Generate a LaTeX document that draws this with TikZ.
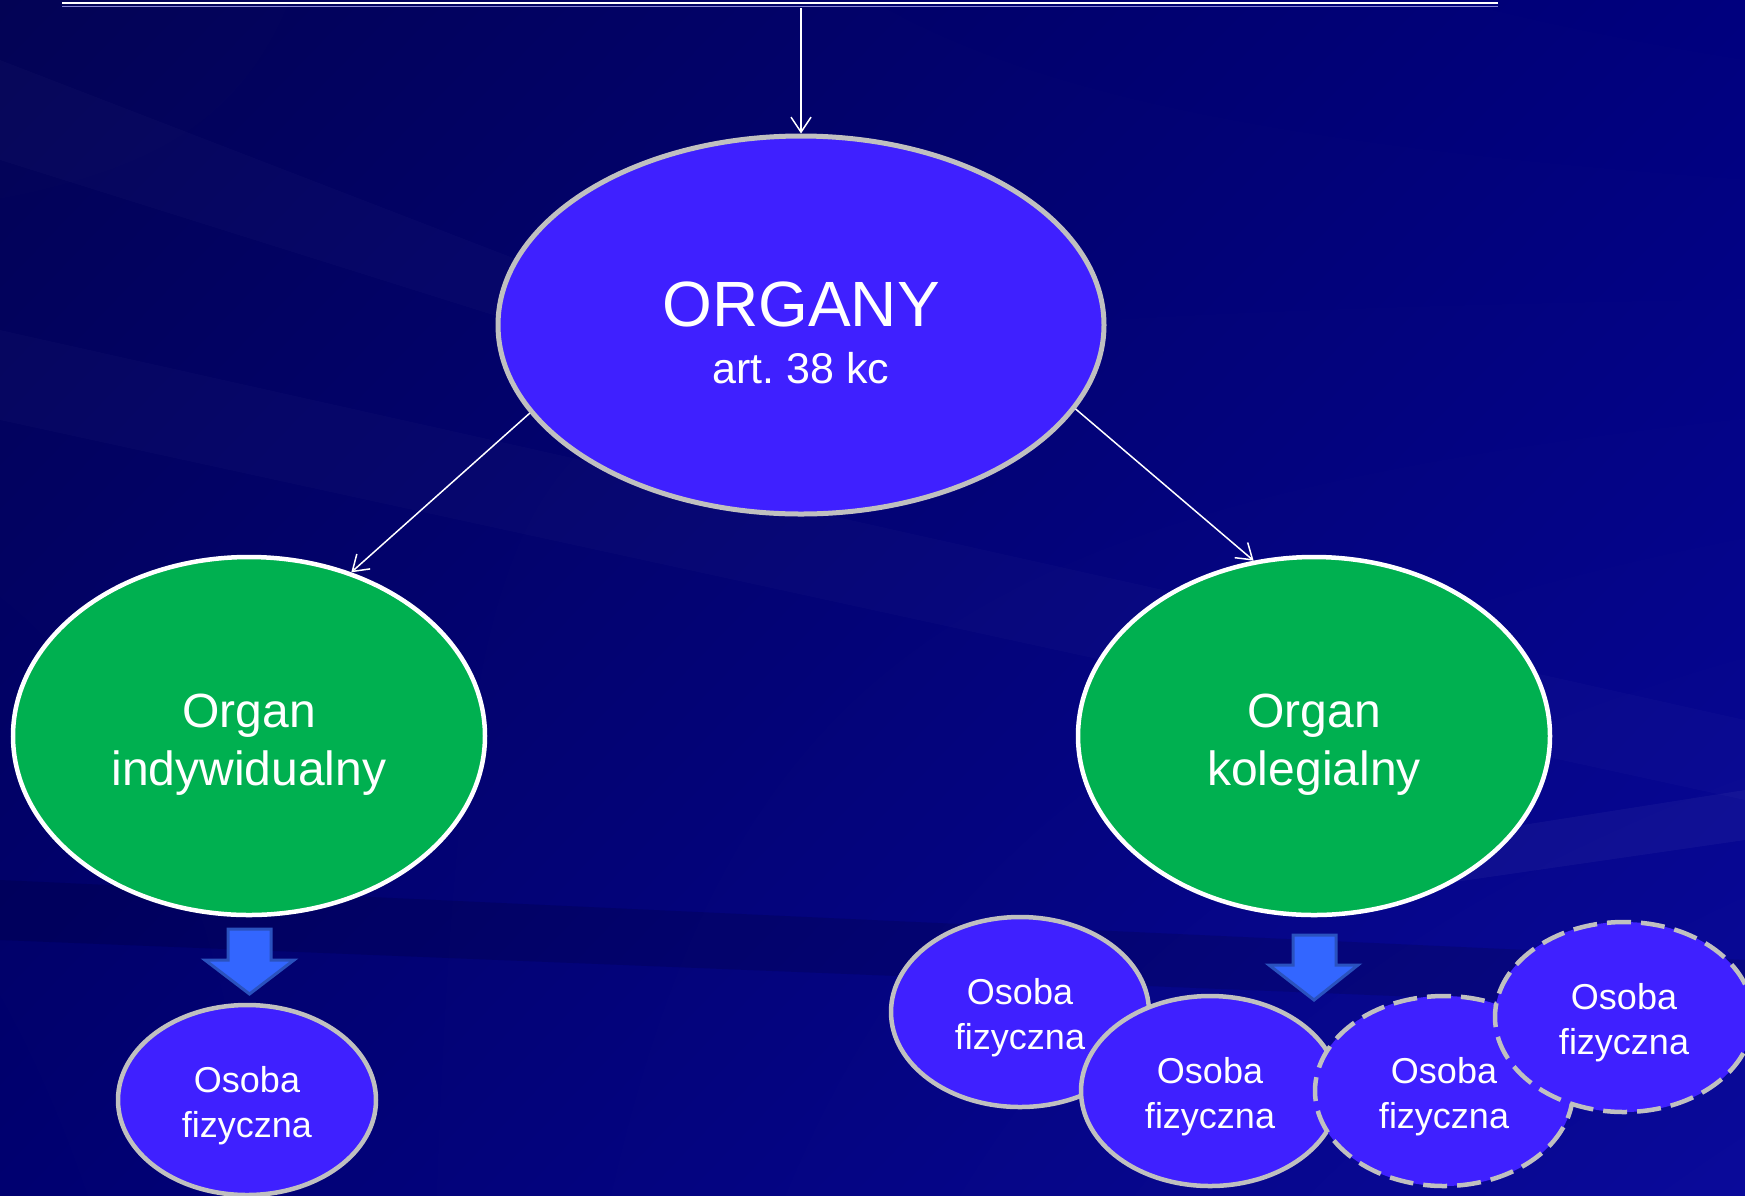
\documentclass[tikz,border=0pt]{standalone}
\usepackage{fontspec}
\setmainfont{Liberation Sans}
\usetikzlibrary{shapes,arrows.meta,positioning,shadings}
\definecolor{organblue}{HTML}{3F20FF}
\definecolor{organgreen}{HTML}{00B050}
\definecolor{organgray}{HTML}{C0C0C0}
\definecolor{arrowblue}{HTML}{3366FF}
\definecolor{arrowedge}{HTML}{2A52BE}
\definecolor{bgdark}{HTML}{030355}
\definecolor{bgmid}{HTML}{00007E}
\definecolor{bglow}{HTML}{000070}
\definecolor{bglight}{HTML}{0A0A9A}
\frenchspacing

\begin{document}
\begin{tikzpicture}[x=1pt,y=-1pt,
  bigstyle/.style={ellipse,draw=organgray,line width=5pt,fill=organblue,text=white,inner sep=0pt,align=center},
  greenstyle/.style={ellipse,draw=white,line width=4.5pt,fill=organgreen,text=white,inner sep=0pt,
    minimum width=472,minimum height=358,align=center,font=\fontsize{48}{58}\selectfont},
  osobastyle/.style={ellipse,draw=organgray,line width=4.5pt,fill=organblue,text=white,inner sep=0pt,
    minimum width=258,minimum height=190,align=center,font=\fontsize{36}{45}\selectfont},
  dashstyle/.style={osobastyle,dash pattern=on 24pt off 10pt},
  blockarrow/.style={fill=arrowblue,draw=arrowedge,line width=3pt,line join=miter},
  link/.style={draw=white,line width=1.5pt,-{Straight Barb[length=15pt,width=20pt]}}]

  % background
  \shade[upper left=bgdark,upper right=bgmid,lower left=bglow,lower right=bglight] (0,0) rectangle (1745,1195);
  \fill[white,opacity=0.02] (0,60) -- (700,330) -- (700,380) -- (0,160) -- cycle;
  \fill[white,opacity=0.02] (0,330) -- (1745,720) -- (1745,800) -- (0,420) -- cycle;
  \fill[white,opacity=0.04] (1300,860) -- (1745,790) -- (1745,840) -- (1330,900) -- cycle;
  \fill[black,opacity=0.12] (0,880) -- (1745,960) -- (1745,1010) -- (0,940) -- cycle;
  \useasboundingbox (0,0) rectangle (1745,1195);

  % top line
  \coordinate (lineL) at (62,3);
  \coordinate (lineR) at (1498,3);
  \coordinate (topstart) at (801,8);
  \draw[white,line width=1.5pt] (lineL) -- (lineR);
  \draw[organgray!70!blue,line width=1pt] ([yshift=-3pt]lineL) -- ([yshift=-3pt]lineR);

  % main nodes
  \node[bigstyle,minimum width=606,minimum height=378] (organy) at (801,325)
    {\fontsize{64}{62}\selectfont\rule{0pt}{60pt}ORGANY\\[24pt]\fontsize{43}{62}\selectfont art. 38 kc};
  \node[greenstyle] (indyw) at (249,736) {\rule{0pt}{51pt}Organ\\indywidualny};
  \node[greenstyle] (koleg) at (1314,736) {\rule{0pt}{51pt}Organ\\kolegialny};

  \draw[link] (topstart) -- (organy.north);
  \draw[link] (organy.198.6) -- (indyw.58);
  \draw[link] (organy.343.5) -- (koleg.109);

  % block arrows
  \draw[blockarrow] (228,929) -- (271,929) -- (271,960) -- (294,960) -- (249.5,994) -- (205,960) -- (228,960) -- cycle;
  \draw[blockarrow] (1293,935) -- (1336,935) -- (1336,965) -- (1358,965) -- (1314,1000) -- (1269,965) -- (1293,965) -- cycle;

  % persons
  \node[osobastyle] (osoba0) at (247,1100) {\rule{0pt}{38pt}Osoba\\fizyczna};
  \node[osobastyle] (osoba1) at (1020,1012) {\rule{0pt}{38pt}Osoba\\fizyczna};
  \node[osobastyle] (osoba2) at (1210,1091) {\rule{0pt}{38pt}Osoba\\fizyczna};
  \node[dashstyle] (osoba3) at (1444,1091) {\rule{0pt}{38pt}Osoba\\fizyczna};
  \node[dashstyle] (osoba4) at (1624,1017) {\rule{0pt}{38pt}Osoba\\fizyczna};
\end{tikzpicture}
\end{document}
